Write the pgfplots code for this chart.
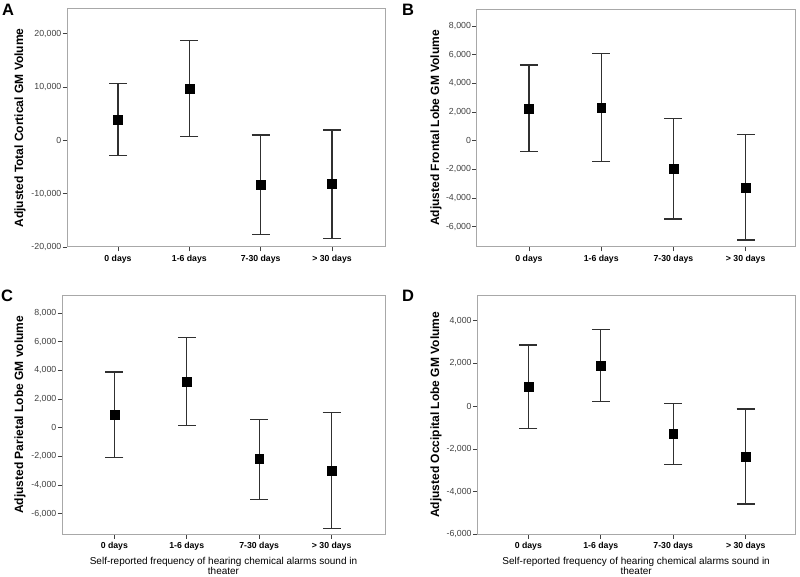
\documentclass[border=0pt]{standalone}
\usepackage{pgfplots}
\pgfplotsset{compat=1.18}
\usepackage{pgfplotstable}
\usepackage{fontspec}
\setmainfont{Liberation Sans}

\definecolor{framegray}{HTML}{A8A8A8}
\definecolor{ticktext}{HTML}{404040}
\definecolor{bargray}{HTML}{303030}

% columns: category, mean, upper and lower end of the bar
\pgfplotstableread{
x mean upper lower
0 3900 10600 -2900
1 9600 18700 700
2 -8300 1000 -17600
3 -8200 1900 -18400
}\dataA
\pgfplotstableread{
x mean upper lower
0 2260 5280 -770
1 2300 6100 -1460
2 -1980 1560 -5460
3 -3280 420 -6930
}\dataB
\pgfplotstableread{
x mean upper lower
0 930 3890 -2090
1 3210 6280 160
2 -2190 590 -5000
3 -2980 1050 -7020
}\dataC
\pgfplotstableread{
x mean upper lower
0 900 2860 -1060
1 1900 3590 220
2 -1280 140 -2720
3 -2380 -140 -4580
}\dataD

\pgfplotsset{
  panel/.style={
    scale only axis,
    anchor=south west,
    xtick={0,1,2,3},
    xticklabels={0 days,1-6 days,7-30 days,> 30 days},
    axis line style={framegray, line width=1pt},
    tick align=outside,
    xtick pos=bottom, ytick pos=left,
    major tick length=4.5pt,
    tick style={ticktext, line width=0.7pt},
    scaled y ticks=false,
    /pgf/number format/1000 sep={,},
    /pgf/number format/assume math mode=true,
    yticklabel style={font=\fontsize{8.8}{10}\selectfont, text=ticktext, inner sep=1pt},
    xticklabel style={font=\bfseries\fontsize{8.7}{10}\selectfont},
    ylabel style={font=\bfseries\fontsize{12}{13}\selectfont, anchor=center},
    xlabel style={font=\fontsize{10}{9.5}\selectfont, align=center, anchor=north},
  },
  bars/.style={
    only marks, mark=square*, mark size=4.4pt, black,
    error bars/.cd, y dir=both, y explicit,
    error bar style={bargray, line width=1.3pt},
    error mark options={bargray, line width=1.3pt, mark size=9pt, rotate=90},
  },
}

\newcommand{\errplot}[1]{%
  \addplot[bars] table[x=x, y=mean,
    y error plus expr=\thisrow{upper}-\thisrow{mean},
    y error minus expr=\thisrow{mean}-\thisrow{lower}]{#1};}

\begin{document}
\begin{tikzpicture}
\useasboundingbox (0,0) rectangle (800pt,576pt);

\begin{axis}[panel, at={(67pt,329pt)}, width=318pt, height=238pt,
  xmin=-0.715, xmax=3.743, ymin=-20000, ymax=24600,
  ytick={-20000,-10000,0,10000,20000},
  ylabel={Adjusted Total Cortical GM Volume},
  ylabel style={at={(axis description cs:-0.148,0.5)}}]
\errplot{\dataA}
\end{axis}

\begin{axis}[panel, at={(476.7pt,329pt)}, width=318.3pt, height=238pt,
  xmin=-0.724, xmax=3.683, ymin=-7420, ymax=9190,
  ytick={-6000,-4000,...,8000},
  ylabel={Adjusted Frontal Lobe GM Volume},
  ylabel style={at={(axis description cs:-0.128,0.5)}}]
\errplot{\dataB}
\end{axis}

\begin{axis}[panel, at={(62pt,41.7pt)}, width=323pt, height=239pt,
  xmin=-0.722, xmax=3.736, ymin=-7440, ymax=9240,
  ytick={-6000,-4000,...,8000},
  ylabel={Adjusted Parietal Lobe GM volume},
  ylabel style={at={(axis description cs:-0.130,0.5)}},
  xlabel={Self-reported frequency of hearing chemical alarms sound in\\theater}]
\errplot{\dataC}
\end{axis}

\begin{axis}[panel, at={(477.3pt,41.7pt)}, width=317.7pt, height=239pt,
  xmin=-0.704, xmax=3.68, ymin=-6000, ymax=5190,
  ytick={-6000,-4000,...,4000},
  ylabel={Adjusted Occipital Lobe GM Volume},
  ylabel style={at={(axis description cs:-0.130,0.5)}},
  xlabel={Self-reported frequency of hearing chemical alarms sound in\\theater}]
\errplot{\dataD}
\end{axis}

\begin{scope}[every node/.style={font=\bfseries\fontsize{16.5}{17}\selectfont, inner sep=0pt}]
\node at (8pt,566pt) {A};
\node at (408pt,566pt) {B};
\node at (7pt,280pt) {C};
\node at (408pt,280pt) {D};
\end{scope}
\end{tikzpicture}
\end{document}
